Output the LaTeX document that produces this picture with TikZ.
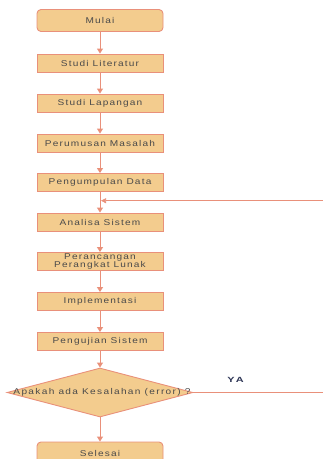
\documentclass[tikz,border=0pt]{standalone}
\usepackage{fontspec}
\usetikzlibrary{shapes.geometric,arrows.meta}
\newfontfamily\lbl[LetterSpace=14,FakeStretch=1.2]{Liberation Sans}
\newfontfamily\declbl[LetterSpace=16,FakeStretch=1.2]{Liberation Sans}
\newfontfamily\yalbl[LetterSpace=30,FakeStretch=1.45]{Liberation Sans}
\definecolor{boxfill}{HTML}{F3CC8E}
\definecolor{boxline}{HTML}{E9907A}
\definecolor{txt}{HTML}{4A4A4A}
\definecolor{yacol}{HTML}{2E3656}
\begin{document}
\begin{tikzpicture}[x=1pt,y=-1pt,
  stepbox/.style={draw=boxline,fill=boxfill,line width=0.9pt,minimum width=126pt,minimum height=18pt,inner sep=0pt,align=center,font=\lbl\fontsize{8.4}{8.4}\selectfont,text=txt},
  termbox/.style={stepbox,rounded corners=4pt,minimum height=22pt},
  decbox/.style={draw=boxline,fill=boxfill,line width=0.9pt,diamond,aspect=3.8,minimum width=186pt,minimum height=49pt,inner sep=0pt},
  dectext/.style={inner sep=0pt,font=\declbl\fontsize{8.4}{8.4}\selectfont,text=txt},
  flow/.style={draw=boxline,line width=0.9pt,-{Triangle[length=5pt,width=6pt]}},
  thin/.style={draw=boxline,line width=0.6pt}]
\useasboundingbox (0,0) rectangle (323,459);
\node[termbox] (mulai) at (100,20.5) {Mulai};
\node[stepbox] (lit) at (100,63) {Studi Literatur};
\node[stepbox] (lap) at (100,103) {Studi Lapangan};
\node[stepbox] (rum) at (100,143) {Perumusan Masalah};
\node[stepbox] (kum) at (100,182.5) {Pengumpulan Data};
\node[stepbox] (ana) at (100,222) {Analisa Sistem};
\node[stepbox,font=\lbl\fontsize{8.4}{7.4}\selectfont] (ran) at (100,261.5) {Perancangan\\Perangkat Lunak};
\node[stepbox] (imp) at (100,301.5) {Implementasi};
\node[stepbox] (uji) at (100,341.5) {Pengujian Sistem};
\node[decbox] (dec) at (100,392.5) {};
\node[dectext] (dectxt) at (102,392.5) {Apakah ada Kesalahan (error) ?};
\node[termbox] (sel) at (100,453) {Selesai};
\node[font=\yalbl\bfseries\fontsize{7.5}{7.5}\selectfont,text=yacol] (ya) at (235.5,379.7) {YA};
\coordinate (loopR) at (323,200.7);
\coordinate (loopL) at (101,200.7);
\coordinate (yaR) at (323,392.5);
\draw[flow] (mulai) -- (lit);
\draw[flow] (lit) -- (lap);
\draw[flow] (lap) -- (rum);
\draw[flow] (rum) -- (kum);
\draw[flow] (kum) -- (ana);
\draw[flow] (ana) -- (ran);
\draw[flow] (ran) -- (imp);
\draw[flow] (imp) -- (uji);
\draw[flow] (uji) -- (dec);
\draw[flow] (dec) -- (sel);
\draw[thin,-{Triangle[length=5pt,width=5pt]}] (loopR) -- (loopL);
\draw[thin] (dec.east) -- (yaR);
\end{tikzpicture}
\end{document}
